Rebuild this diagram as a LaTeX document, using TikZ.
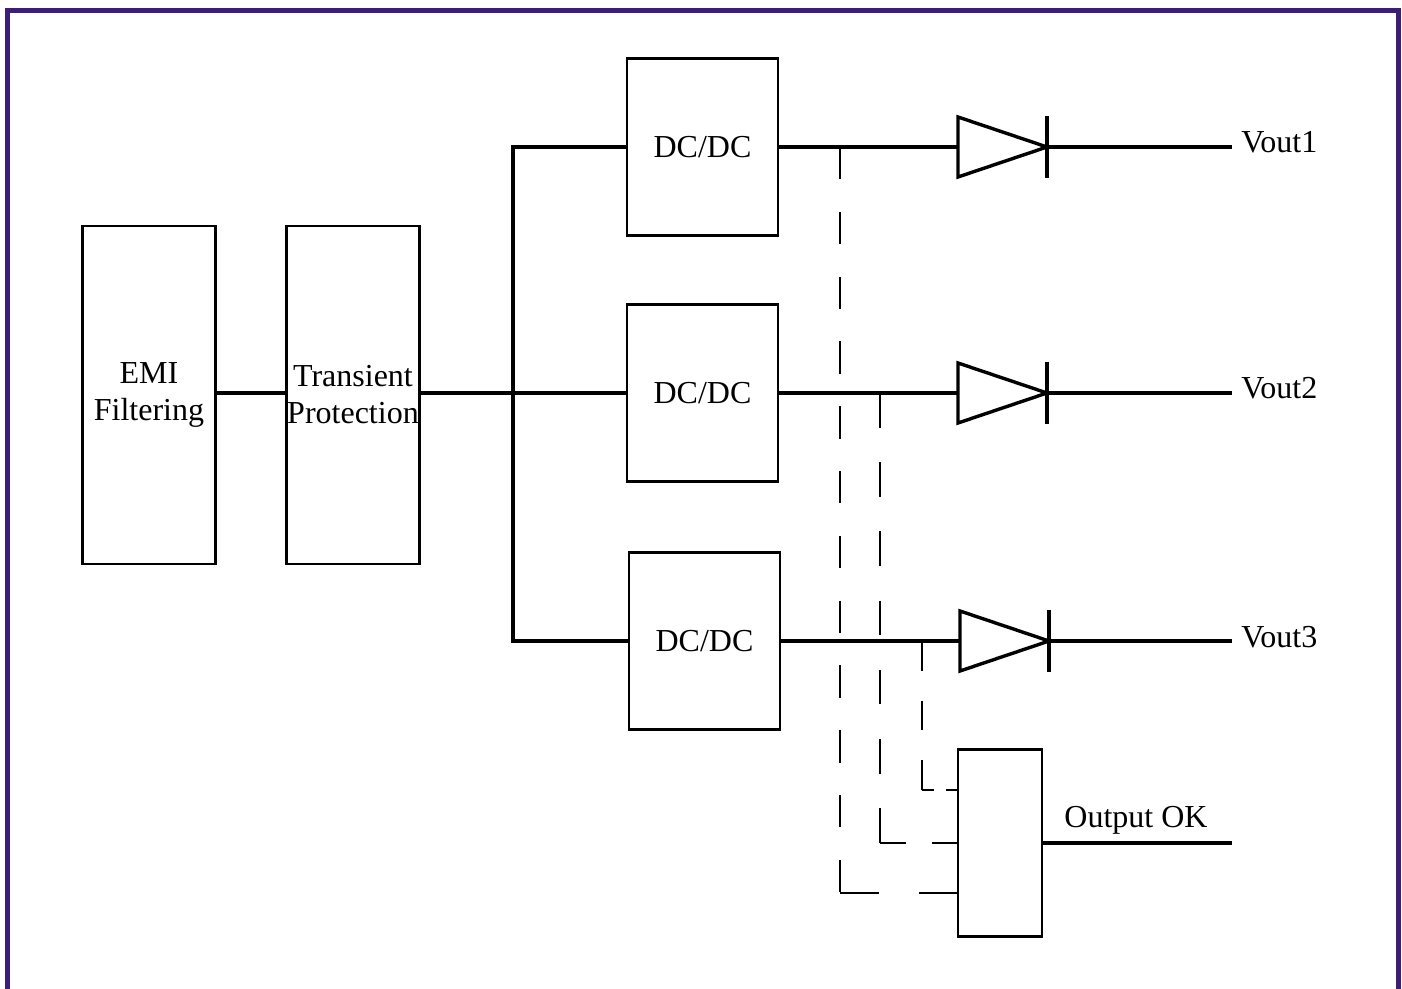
\documentclass[tikz,border=0pt]{standalone}
\usepackage{fontspec}
\setmainfont{Liberation Serif}
\usetikzlibrary{positioning}
\definecolor{framepurple}{RGB}{60,30,122}

\begin{document}
\begin{tikzpicture}[
    x=0.5pt, y=-0.5pt,
    block/.style={rectangle, draw=black, line width=1.2pt, inner sep=0pt, align=center, font=\fontsize{16}{18.5}\selectfont},
    tallbox/.style={block, minimum width=66.5pt, minimum height=169pt},
    dcbox/.style={block, minimum width=75.5pt, minimum height=88.5pt},
    wire/.style={line width=1.7pt},
    sense/.style={line width=1.2pt, dash pattern=on #1 off #1},
    outlabel/.style={inner sep=0pt, anchor=base west, font=\fontsize{16}{18.5}\selectfont}
  ]
    \useasboundingbox (0,0) rectangle (1402,989);
    % Frame (open at the bottom)
    \draw[framepurple, line width=2.5pt] (7.5,989) -- (7.5,10.5) -- (1398.5,10.5) -- (1398.5,989);
    % Input stages
    \node[tallbox] (emi)   at (149,395) {EMI\\Filtering};
    \node[tallbox] (trans) at (353,395) {Transient\\Protection};
    % Converters
    \node[dcbox] (dc1) at (702.5,147) {DC/DC};
    \node[dcbox] (dc2) at (702.5,393) {DC/DC};
    \node[dcbox] (dc3) at (704.5,641) {DC/DC};
    \coordinate (bus1) at (513,147);
    \coordinate (bus3) at (513,641);
    \draw[wire] (emi.east |- dc2.west) -- (trans.west |- dc2.west);
    \draw[wire] (trans.east |- dc2.west) -- (dc2.west);
    \draw[wire] (dc1.west) -- (bus1) -- (bus3) -- (dc3.west);
    % Output diodes
    \foreach \n/\x/\y in {1/958/147, 2/958/393, 3/960/641} {
      \coordinate (a\n) at (\x,\y);
      \coordinate (k\n) at (\x+89,\y);
      \coordinate (v\n) at (1232,\y);
      \draw[wire] (\x,\y-30) -- (\x,\y+30) -- (k\n) -- cycle;
      \draw[wire] (\x+89,\y-31) -- (\x+89,\y+31);
      \draw[wire] (dc\n.east) -- (a\n);
      \draw[wire] (k\n) -- (v\n);
      \node[outlabel] (vout\n) at (1241,\y+6) {Vout\n};
    }
    % Output OK monitor
    \node[block, minimum width=42pt, minimum height=93.5pt] (ok) at (1000,843) {};
    \coordinate (okout) at (1232,843);
    \draw[wire] (ok.east) -- (okout);
    \node[outlabel] (oklabel) at (1064,827) {Output OK};
    \coordinate (t1) at (840,147);
    \coordinate (t2) at (880,393);
    \coordinate (t3) at (922,641);
    \coordinate (in1) at (958,893);
    \coordinate (in2) at (958,843);
    \coordinate (in3) at (958,790);
    % sense lines: own dash length down and across
    \foreach \n/\v/\h in {1/16.2pt/19.7pt, 2/17.3pt/13pt, 3/14.9pt/6pt} {
      \draw[sense=\v] (t\n) -- (t\n |- in\n);
      \draw[sense=\h] (t\n |- in\n) -- (in\n);
    }
  \end{tikzpicture}
\end{document}
